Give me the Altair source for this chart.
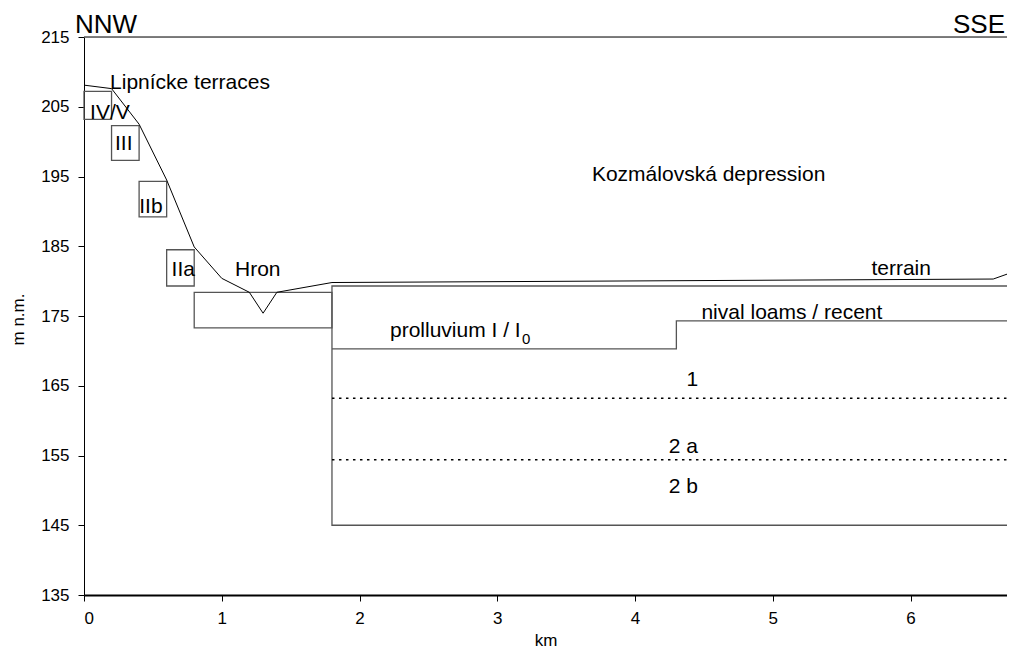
import altair as alt
import pandas as pd

# ---- data ----
terrain_x = [0, 0.2, 0.4, 0.6, 0.8, 1.0, 1.2, 1.3, 1.4, 1.8, 6.6, 6.7]
terrain_y = [208.1, 207.6, 202.5, 194.5, 184.9, 180.4, 178.4, 175.4, 178.4, 179.8, 180.3, 181.0]

terrace_x0 = [0, 0.2, 0.4, 0.6, 0.8]
terrace_x1 = [0.2, 0.4, 0.6, 0.8, 1.8]
terrace_top = [207.2, 202.3, 194.3, 184.5, 178.4]
terrace_bottom = [203.2, 197.3, 189.2, 179.3, 173.3]

depression_x = [6.7, 1.8, 1.8, 6.7]
depression_y = [179.3, 179.3, 145.0, 145.0]

boundary_x = [1.8, 4.3, 4.3, 6.7]
boundary_y = [170.3, 170.3, 174.3, 174.3]

dotted_levels = [163.2, 154.4]
dotted_x = [1.8, 6.7]

label_text = ["Lipnícke terraces", "IV/V", "III", "IIb", "IIa", "Hron",
              "Kozmálovská depression", "terrain", "nival loams / recent",
              "prolluvium I / I", "1", "2 a", "2 b"]
label_x = [0.189, 0.044, 0.225, 0.401, 0.636, 1.096, 3.687, 5.716, 4.482,
           2.221, 4.374, 4.245, 4.245]
label_y = [207.5, 203.3, 198.8, 189.7, 180.7, 180.7, 194.3, 180.9, 174.6,
           172.0, 164.9, 155.4, 149.6]

sub_text = ["0"]
sub_x = [3.18]
sub_y = [171.0]

x_ticks = [0, 1, 2, 3, 4, 5, 6]
y_ticks = [135, 145, 155, 165, 175, 185, 195, 205, 215]

FONT = "Liberation Sans"
W, H = 923, 558

xs = alt.Scale(domain=[0, 6.7], nice=False, zero=False)
ys = alt.Scale(domain=[135, 215], nice=False, zero=False)

x_axis = alt.Axis(values=x_ticks, format="d", title="km", grid=False, labelFont=FONT,
                  labelFontSize=17, labelColor="black", tickSize=6,
                  tickColor="black", domainColor="black", domainWidth=2,
                  labelPadding=9, titleFont=FONT, titleFontSize=17,
                  titleFontWeight="normal", titleColor="black",
                  titleY=45, titleBaseline="middle")
y_axis = alt.Axis(values=y_ticks, format="d", title="m n.m.", grid=False, labelFont=FONT,
                  labelFontSize=17, labelColor="black", tickSize=6,
                  tickColor="black", domainColor="black", domainWidth=1,
                  labelPadding=9, titleFont=FONT, titleFontSize=17,
                  titleFontWeight="normal", titleColor="black",
                  titleAngle=270, titleX=-66, titleY=282,
                  titleAlign="center", titleBaseline="middle")

terrain_df = pd.DataFrame({"x": terrain_x, "y": terrain_y, "i": range(len(terrain_x))})
terr_df = pd.DataFrame({"x0": terrace_x0, "x1": terrace_x1,
                        "top": terrace_top, "bottom": terrace_bottom})
dep_df = pd.DataFrame({"x": depression_x, "y": depression_y, "i": range(4)})
bnd_df = pd.DataFrame({"x": boundary_x, "y": boundary_y, "i": range(4)})
dot_rows = []
for k, lv in enumerate(dotted_levels):
    for j, xv in enumerate(dotted_x):
        dot_rows.append({"x": xv, "y": lv, "g": k, "i": j})
dot_df = pd.DataFrame(dot_rows)
lab_df = pd.DataFrame({"t": label_text, "x": label_x, "y": label_y})
sub_df = pd.DataFrame({"t": sub_text, "x": sub_x, "y": sub_y})
top_df = pd.DataFrame({"x": [0, 6.7], "y": [215, 215], "i": [0, 1]})

GREY = "#555555"

axes_layer = alt.Chart(top_df).mark_line(color=GREY, strokeWidth=1.5).encode(
    x=alt.X("x:Q", scale=xs, axis=x_axis),
    y=alt.Y("y:Q", scale=ys, axis=y_axis),
    order="i:Q",
)

terraces = alt.Chart(terr_df).mark_rect(fill="transparent", stroke=GREY, strokeWidth=1.3).encode(
    x=alt.X("x0:Q", scale=xs), x2="x1:Q",
    y=alt.Y("top:Q", scale=ys), y2="bottom:Q",
)

depression = alt.Chart(dep_df).mark_line(color=GREY, strokeWidth=1.3).encode(
    x=alt.X("x:Q", scale=xs), y=alt.Y("y:Q", scale=ys), order="i:Q")

boundary = alt.Chart(bnd_df).mark_line(color=GREY, strokeWidth=1.3).encode(
    x=alt.X("x:Q", scale=xs), y=alt.Y("y:Q", scale=ys), order="i:Q")

dotted = alt.Chart(dot_df).mark_line(color="black", strokeWidth=1.6, strokeDash=[2.5, 4.5]).encode(
    x=alt.X("x:Q", scale=xs), y=alt.Y("y:Q", scale=ys), detail="g:N", order="i:Q")

terrain = alt.Chart(terrain_df).mark_line(color="black", strokeWidth=1).encode(
    x=alt.X("x:Q", scale=xs), y=alt.Y("y:Q", scale=ys), order="i:Q")

labels = alt.Chart(lab_df).mark_text(font=FONT, fontSize=21, color="black",
                                      align="left", baseline="alphabetic").encode(
    x=alt.X("x:Q", scale=xs), y=alt.Y("y:Q", scale=ys), text="t:N")

subs = alt.Chart(sub_df).mark_text(font=FONT, fontSize=15, color="black",
                                    align="left", baseline="alphabetic").encode(
    x=alt.X("x:Q", scale=xs), y=alt.Y("y:Q", scale=ys), text="t:N")

nnw = alt.Chart(pd.DataFrame({"t": ["NNW"]})).mark_text(
    font=FONT, fontSize=26, color="black", align="left", baseline="alphabetic").encode(
    x=alt.value(-9), y=alt.value(-4), text="t:N")

sse = alt.Chart(pd.DataFrame({"t": ["SSE"]})).mark_text(
    font=FONT, fontSize=26, color="black", align="right", baseline="alphabetic").encode(
    x=alt.value(W - 2), y=alt.value(-4), text="t:N")

chart = alt.layer(axes_layer, terraces, depression, boundary, dotted, terrain,
                  labels, subs, nnw, sse).properties(
    width=W, height=H,
    autosize=alt.AutoSizeParams(type="none"),
    padding={"left": 76, "top": 29, "right": 0, "bottom": 58},
).configure_view(stroke=None).configure(background="white")

chart.save("out.html", embed_options={"renderer": "svg", "actions": False})
